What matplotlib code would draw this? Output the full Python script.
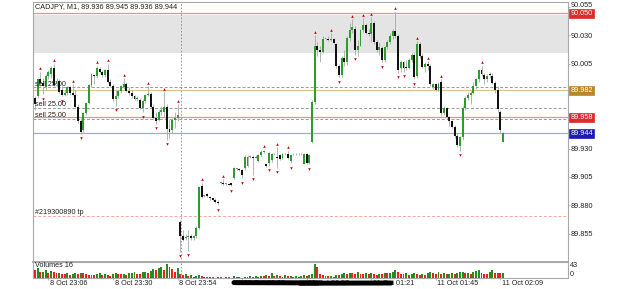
import matplotlib
matplotlib.use("Agg")
import matplotlib.pyplot as plt
import matplotlib.transforms as mtransforms
from matplotlib.lines import Line2D
import numpy as np

plt.rcParams["font.family"] = ["Liberation Sans", "DejaVu Sans"]

# ---- data (CADJPY M1) ----
opens = [
    89.975, 89.976, 89.991, 89.988, 89.984, 89.994, 89.996, 90.001, 89.987, 89.990,
    89.982, 89.977, 89.979, 89.984, 89.979, 89.977, 89.967, 89.954, 89.946, 89.961,
    89.970, 89.986, 89.995, 89.994, 90.000, 89.998, 89.995, 89.999, 89.989, 89.985,
    89.974, 89.976, 89.981, 89.984, 89.987, 89.981, 89.979, 89.976, 89.974, 89.973,
    89.966, 89.972, 89.977, 89.978, 89.967, 89.957, 89.955, 89.962, 89.962, 89.967,
    89.947, 89.946, 89.955, 89.957,
    89.865, 89.853, 89.851, 89.852, 89.853, 89.851, 89.853, 89.860, 89.897, 89.888,
    89.890, 89.887, 89.886, 89.885, 89.883, 89.900, 89.900, 89.899, 89.899, 89.900,
    89.904, 89.912, 89.912, 89.911, 89.913, 89.915, 89.923, 89.923, 89.922, 89.919,
    89.924, 89.927, 89.916, 89.917, 89.920, 89.925, 89.923, 89.924, 89.922, 89.925,
    89.925, 89.919, 89.925, 89.925, 89.925, 89.925, 89.916, 89.925, 89.917, 89.936,
    89.971, 90.021, 90.017, 90.015, 90.027, 90.027, 90.026, 90.027, 90.022, 90.003,
    89.995, 90.010, 90.006, 90.028, 90.035, 90.036, 90.017, 90.021, 90.035, 90.039,
    90.032, 90.031, 90.041, 90.024, 90.017, 90.019, 90.008, 90.020, 90.024, 90.029,
    90.034, 90.029, 90.001, 90.006, 90.002, 90.001, 90.008, 90.013, 89.994, 90.022,
    90.012, 90.002, 90.005, 90.003, 89.984, 89.987, 89.982, 89.989, 89.961, 89.966,
    89.958, 89.954, 89.949, 89.941, 89.932, 89.940, 89.966, 89.975, 89.977, 89.979,
    89.985, 89.991, 89.999, 89.995, 89.991, 89.996, 89.994, 89.988, 89.982, 89.962, 89.936,
]
highs = [
    89.976, 89.992, 89.998, 89.992, 89.996, 89.999, 90.003, 90.005, 89.992, 89.991,
    89.985, 89.982, 89.985, 89.985, 89.987, 89.982, 89.969, 89.957, 89.962, 89.971,
    89.987, 89.997, 89.996, 90.003, 90.002, 89.999, 90.000, 90.005, 89.991, 89.987,
    89.982, 89.983, 89.986, 89.992, 89.989, 89.984, 89.982, 89.977, 89.976, 89.975,
    89.974, 89.978, 89.985, 89.980, 89.969, 89.962, 89.964, 89.968, 89.980, 89.969,
    89.955, 89.957, 89.962, 89.969,
    89.867, 89.858, 89.855, 89.858, 89.855, 89.854, 89.862, 89.897, 89.900, 89.889,
    89.891, 89.888, 89.886, 89.886, 89.885, 89.901, 89.903, 89.900, 89.900, 89.900,
    89.914, 89.913, 89.913, 89.912, 89.924, 89.924, 89.924, 89.924, 89.924, 89.925,
    89.929, 89.929, 89.916, 89.927, 89.926, 89.926, 89.931, 89.925, 89.926, 89.926,
    89.928, 89.925, 89.926, 89.926, 89.926, 89.926, 89.926, 89.926, 89.925, 89.973,
    90.030, 90.024, 90.021, 90.029, 90.028, 90.029, 90.032, 90.028, 90.023, 90.005,
    90.012, 90.017, 90.029, 90.041, 90.044, 90.038, 90.026, 90.036, 90.045, 90.041,
    90.036, 90.046, 90.043, 90.026, 90.024, 90.021, 90.021, 90.026, 90.032, 90.036,
    90.051, 90.031, 90.008, 90.007, 90.008, 90.010, 90.014, 90.015, 90.025, 90.024,
    90.014, 90.006, 90.007, 90.005, 89.988, 89.988, 89.989, 89.991, 89.968, 89.967,
    89.959, 89.955, 89.951, 89.944, 89.941, 89.968, 89.976, 89.980, 89.981, 89.989,
    89.992, 90.000, 90.003, 89.997, 89.996, 89.998, 89.997, 89.990, 89.985, 89.964, 89.945,
]
lows = [
    89.964, 89.975, 89.985, 89.978, 89.982, 89.991, 89.992, 89.985, 89.984, 89.979,
    89.976, 89.976, 89.977, 89.977, 89.976, 89.966, 89.953, 89.943, 89.945, 89.960,
    89.969, 89.984, 89.987, 89.992, 89.997, 89.993, 89.993, 89.988, 89.984, 89.972,
    89.968, 89.975, 89.979, 89.983, 89.980, 89.977, 89.975, 89.973, 89.972, 89.965,
    89.962, 89.970, 89.976, 89.966, 89.956, 89.952, 89.954, 89.960, 89.958, 89.938,
    89.939, 89.944, 89.948, 89.954,
    89.839, 89.848, 89.849, 89.840, 89.849, 89.849, 89.851, 89.859, 89.886, 89.887,
    89.887, 89.885, 89.884, 89.882, 89.880, 89.899, 89.898, 89.898, 89.898, 89.897,
    89.903, 89.911, 89.910, 89.904, 89.911, 89.914, 89.922, 89.907, 89.922, 89.918,
    89.923, 89.926, 89.914, 89.915, 89.918, 89.924, 89.913, 89.920, 89.921, 89.924,
    89.921, 89.917, 89.924, 89.924, 89.924, 89.924, 89.916, 89.916, 89.916, 89.935,
    89.969, 90.012, 90.006, 90.014, 90.026, 90.025, 90.025, 90.022, 90.001, 89.993,
    89.993, 90.003, 90.004, 90.025, 90.032, 90.013, 90.012, 90.021, 90.033, 90.031,
    90.029, 90.024, 90.022, 90.015, 90.013, 90.006, 90.006, 90.018, 90.022, 90.027,
    90.028, 89.997, 89.998, 89.998, 89.999, 90.000, 90.006, 89.991, 89.992, 90.010,
    90.001, 89.998, 89.999, 89.985, 89.983, 89.981, 89.981, 89.959, 89.960, 89.957,
    89.950, 89.948, 89.939, 89.931, 89.928, 89.938, 89.964, 89.973, 89.969, 89.978,
    89.983, 89.989, 89.994, 89.987, 89.989, 89.992, 89.987, 89.979, 89.962, 89.944, 89.936,
]
closes = [
    89.969, 89.991, 89.988, 89.985, 89.994, 89.998, 90.001, 89.986, 89.990, 89.980,
    89.977, 89.979, 89.984, 89.979, 89.977, 89.967, 89.954, 89.945, 89.961, 89.970,
    89.986, 89.996, 89.994, 90.001, 89.998, 89.995, 89.999, 89.989, 89.985, 89.974,
    89.976, 89.981, 89.985, 89.987, 89.981, 89.979, 89.976, 89.974, 89.975, 89.966,
    89.972, 89.977, 89.978, 89.967, 89.957, 89.954, 89.962, 89.964, 89.967, 89.947,
    89.945, 89.955, 89.957, 89.960,
    89.853, 89.849, 89.852, 89.853, 89.851, 89.853, 89.860, 89.896, 89.887, 89.888,
    89.888, 89.886, 89.885, 89.883, 89.882, 89.900, 89.899, 89.899, 89.898, 89.898,
    89.913, 89.912, 89.911, 89.907, 89.923, 89.923, 89.923, 89.922, 89.923, 89.924,
    89.927, 89.928, 89.915, 89.926, 89.925, 89.925, 89.922, 89.921, 89.925, 89.925,
    89.922, 89.924, 89.925, 89.925, 89.925, 89.925, 89.925, 89.917, 89.924, 89.971,
    90.021, 90.017, 90.015, 90.027, 90.027, 90.026, 90.027, 90.023, 90.003, 89.995,
    90.010, 90.006, 90.028, 90.035, 90.037, 90.017, 90.021, 90.035, 90.039, 90.032,
    90.031, 90.041, 90.024, 90.017, 90.020, 90.008, 90.020, 90.024, 90.029, 90.034,
    90.029, 89.999, 90.006, 90.001, 90.001, 90.008, 90.013, 89.993, 90.022, 90.012,
    90.002, 90.005, 90.003, 89.987, 89.987, 89.982, 89.987, 89.961, 89.966, 89.958,
    89.954, 89.949, 89.941, 89.933, 89.940, 89.966, 89.975, 89.977, 89.979, 89.985,
    89.991, 89.999, 89.996, 89.991, 89.994, 89.995, 89.988, 89.982, 89.965, 89.946, 89.944,
]
volumes = [
    25, 30, 18, 20, 25, 17, 22, 18, 15, 17,
    14, 12, 16, 11, 13, 15, 12, 16, 15, 12,
    10, 11, 9, 12, 15, 11, 13, 10, 8, 13,
    16, 14, 12, 13, 11, 15, 17, 19, 14, 13,
    18, 20, 16, 22, 27, 23, 29, 32, 24, 43,
    33, 26, 20, 31,
    12, 9, 13, 7, 10, 5, 8, 11, 6, 4,
    5, 3, 4, 2, 3, 4, 2, 3, 5, 2,
    6, 3, 4, 2, 5, 3, 6, 4, 7, 5,
    8, 6, 9, 7, 15, 8, 10, 7, 5, 9,
    6, 8, 5, 7, 4, 6, 9, 7, 10, 12,
    43, 33, 13, 9, 8, 6, 7, 5, 11, 9,
    14, 16, 12, 17, 15, 13, 18, 14, 12, 16,
    13, 15, 12, 11, 14, 12, 16, 15, 17, 20,
    23, 18, 14, 12, 15, 11, 13, 16, 12, 10,
    14, 11, 17, 20, 16, 14, 18, 13, 15, 12,
    14, 16, 12, 15, 18, 20, 15, 17, 14, 19,
    22, 24, 16, 14, 12, 20, 23, 17, 15, 15, 16,
]

fractal_up = [2, 7, 14, 23, 27, 33, 42, 48, 53, 62, 70, 85, 90, 94,
              104, 110, 118, 122, 125, 134, 142, 146, 151, 166]
fractal_down = [3, 10, 17, 30, 40, 45, 49, 54, 57, 68, 73, 77, 81, 87, 90, 95,
                102, 113, 119, 129, 135, 137, 141, 158]

time_bars = [5, 29, 53, 77, 101, 125, 149, 173]
time_labels = ["8 Oct 23:06", "8 Oct 23:30", "8 Oct 23:54", "11 Oct 00:33",
               "11 Oct 00:57", "11 Oct 01:21", "11 Oct 01:45", "11 Oct 02:09"]
separator_bar = 54.2

price_ticks = [90.055, 90.030, 90.005, 89.980, 89.955, 89.930, 89.905, 89.880, 89.855]
# 89.980 and 89.955 sit under the coloured price boxes
hidden_ticks = [89.980, 89.955]
zone_low, zone_high = 90.0148, 90.048
sl_level, tp_level, order_level, bid_level = 90.050, 89.982, 89.958, 89.944
order_lines = [89.984, 89.966, 89.956]
order_texts = [(89.9862, "sell 25.00"), (89.969, "sell 25.00"), (89.959, "sell 25.00")]
tp_line = 89.8705
tp_text = "#219300890 tp"
title = "CADJPY, M1, 89.936 89.945 89.936 89.944"

# ---- layout helpers (pixel -> figure fraction) ----
W, H = 625, 289


def fx(px):
    return px / W


def fy(py):
    return 1 - py / H


fig = plt.figure(figsize=(6.25, 2.89), dpi=100)
ax = fig.add_axes([fx(33), fy(262), fx(567.5) - fx(33), fy(2) - fy(262)])
vax = fig.add_axes([fx(33), fy(278.3), fx(567.5) - fx(33), fy(262) - fy(278.3)], sharex=ax)

o = np.array(opens)
h = np.array(highs)
lo = np.array(lows)
c = np.array(closes)
idx = np.arange(len(o))

GREEN = "#2f9a2f"
grid_col = "#a8a8a8"
txt_col = "#222222"
fs = 5.2

# background zone and levels
ax.axhspan(zone_low, zone_high, color="#e4e4e4", lw=0, zorder=0)
ax.axhline(sl_level, color="#f08c8c", lw=0.9, zorder=1)
ax.axhline(tp_level, color="#dcc390", lw=0.9, zorder=1)
ax.axhline(order_level, color="#f08c8c", lw=0.9, zorder=1)
ax.axhline(bid_level, color="#a6a6ee", lw=0.9, zorder=1)
for lv in order_lines:
    ax.axhline(lv, color="#9a9a9a", lw=0.7, ls=(0, (3, 2)), zorder=1)
ax.axhline(tp_line, color="#f6a890", lw=0.7, ls=(0, (3, 2)), zorder=1)
for a in (ax, vax):
    a.axvline(separator_bar, color="#8a8a8a", lw=0.6, ls=(0, (2, 2)), zorder=1)

# candles
ax.vlines(idx, lo, h, color="#a8a8a8", lw=0.6, zorder=3)
body_col = np.where(c > o, GREEN, np.where(c < o, "#111111", "#8c8c8c"))
body_h = np.maximum(np.abs(c - o), 0.0006)
ax.bar(idx, body_h, bottom=np.minimum(o, c), width=0.72, color=body_col, lw=0, zorder=4)

# fractal arrows
ax.scatter(fractal_up, h[fractal_up] + 0.0030, marker="^", s=3.5, color="#c00000", lw=0, zorder=5)
ax.scatter(fractal_down, lo[fractal_down] - 0.0040, marker="v", s=3.5, color="#c00000", lw=0, zorder=5)

# texts on chart
ytr = ax.get_yaxis_transform()
for lv, t in order_texts:
    ax.text(0.004, lv, t, transform=ytr, fontsize=fs, color=txt_col, va="center", ha="left", zorder=6)
ax.text(0.004, tp_line + 0.0027, tp_text, transform=ytr, fontsize=fs, color=txt_col,
        va="center", ha="left", zorder=6)
ax.text(0.004, 0.983, title, transform=ax.transAxes, fontsize=fs, color=txt_col, va="center", ha="left")

ax.set_xlim(-0.743, 197.96)
ax.set_ylim(89.8299, 90.0594)
ax.set_yticks(price_ticks)
ax.set_yticklabels(["" if p in hidden_ticks else f"{p:.3f}" for p in price_ticks])
ax.yaxis.tick_right()
ax.tick_params(axis="y", length=1.5, width=0.6, colors=grid_col, labelcolor=txt_col, labelsize=fs, pad=0.5)
ax.tick_params(axis="x", bottom=False, labelbottom=False)
# top label sits just above the stop-loss box
ax.get_yticklabels()[0].set_va("baseline")

# coloured price boxes on the scale
for lv, fc in [(sl_level, "#e02a2a"), (tp_level, "#b8862e"), (order_level, "#e02a2a"), (bid_level, "#1c1cb4")]:
    ax.text(1.0055, lv - 0.0004, f"{lv:.3f}", transform=ytr, fontsize=fs, color="white",
            va="center", ha="left", zorder=10, clip_on=False,
            bbox=dict(boxstyle="square,pad=0.15", fc=fc, ec=fc, lw=0.5))

# volumes
v = np.array(volumes)
vcol = ["#f02020"] + ["#1f8f1f" if v[i] > v[i - 1] else "#f02020" for i in range(1, len(v))]
vax.bar(idx, v, width=0.72, color=vcol, lw=0, zorder=3)
vax.set_ylim(0, 48)
vax.set_yticks([])
vax.text(0.004, 0.78, f"Volumes {volumes[-1]}", transform=vax.transAxes, fontsize=fs, color=txt_col,
         va="center", ha="left")
vax.text(1.005, 0.76, "43", transform=vax.transAxes, fontsize=fs, color=txt_col, va="center", ha="left")
vax.text(1.005, 0.25, "0", transform=vax.transAxes, fontsize=fs, color=txt_col, va="center", ha="left")
vax.set_xticks(time_bars)
vax.tick_params(axis="x", length=1.5, width=0.6, colors=grid_col, labelbottom=False)

xtr = mtransforms.blended_transform_factory(vax.transData, vax.transAxes)
for b, t in zip(time_bars, time_labels):
    vax.text(b + 0.6, -0.32, t, transform=xtr, fontsize=fs, color=txt_col, va="center", ha="left",
             clip_on=False)

for a in (ax, vax):
    for s in a.spines.values():
        s.set_color(grid_col)
        s.set_linewidth(0.8)
ax.spines["bottom"].set_linewidth(1.4)

# redaction stroke over part of the time scale
fig.add_artist(Line2D([fx(234), fx(318)], [fy(282.6), fy(282.9)], lw=3.6, color="black",
                      solid_capstyle="round"))
fig.add_artist(Line2D([fx(300), fx(391)], [fy(283.2), fy(283.0)], lw=3.6, color="black",
                      solid_capstyle="round"))

fig.savefig("out.png", dpi=100)
